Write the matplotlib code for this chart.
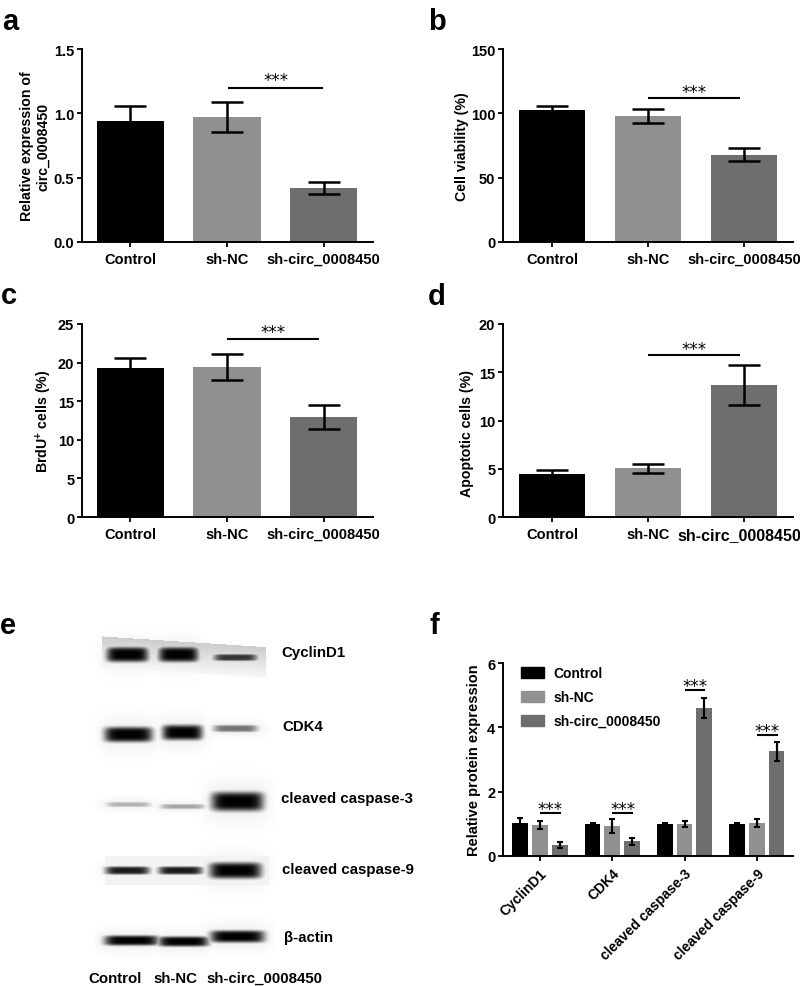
import numpy as np
import matplotlib
matplotlib.use('Agg')
import matplotlib.pyplot as plt
from matplotlib.patches import Patch
from matplotlib.transforms import ScaledTranslation

plt.rcParams['font.family'] = ['Liberation Sans', 'DejaVu Sans']
plt.rcParams['font.weight'] = 'bold'
plt.rcParams['axes.labelweight'] = 'bold'
plt.rcParams['mathtext.default'] = 'regular'

W, H = 800, 987
BLACK, LIGHT, DARK = '#000000', '#909090', '#6e6e6e'
colors = [BLACK, LIGHT, DARK]

groups = ['Control', 'sh-NC', 'sh-circ_0008450']

a_vals = [0.94, 0.97, 0.42]
a_err = [0.115, 0.115, 0.047]
b_vals = [102.5, 98, 68]
b_err = [3.3, 5.5, 5.3]
c_vals = [19.3, 19.4, 12.9]
c_err = [1.35, 1.65, 1.55]
d_vals = [4.45, 5.05, 13.65]
d_err = [0.43, 0.44, 2.08]

proteins = ['CyclinD1', 'CDK4', 'cleaved caspase-3', 'cleaved caspase-9']
f_control = [1.03, 0.98, 0.98, 1.0]
f_nc = [0.97, 0.92, 1.0, 1.02]
f_kd = [0.35, 0.46, 4.6, 3.25]
f_control_err = [0.15, 0.05, 0.05, 0.03]
f_nc_err = [0.12, 0.22, 0.1, 0.12]
f_kd_err = [0.09, 0.11, 0.32, 0.29]

blot_rows = ['CyclinD1', 'CDK4', 'cleaved caspase-3', 'cleaved caspase-9', 'β-actin']
blot_levels = [[1.0, 1.0, 0.8],
               [1.0, 1.0, 0.55],
               [0.3, 0.35, 1.0],
               [0.9, 0.9, 1.0],
               [1.0, 1.0, 1.0]]

fig = plt.figure(figsize=(W / 100, H / 100), dpi=100, facecolor='white')


def px_axes(left, top, right, bottom):
    return fig.add_axes([left / W, 1 - bottom / H, (right - left) / W, (bottom - top) / H])


def style(ax, ymax, yticks, ylabels, ylabel, label_x, label_y=0.5, size=10.2):
    ax.set_ylim(0, ymax)
    ax.set_yticks(yticks, ylabels)
    ax.set_ylabel(ylabel, fontsize=size, linespacing=1.2)
    box = ax.get_position()
    ax.yaxis.set_label_coords((label_x / W - box.x0) / box.width, label_y)
    ax.spines[['top', 'right']].set_visible(False)
    ax.spines[['left', 'bottom']].set_linewidth(1.4)
    ax.tick_params(width=1.3, length=3.6)
    ax.tick_params(axis='y', labelsize=10.5, pad=2)
    ax.tick_params(axis='x', pad=3.5)
    ax.patch.set_alpha(0)


def bar_panel(box, vals, err, xlim, ymax, yticks, ylabels, ylabel, label_x, line_x, line_y,
              star_y, label_y=0.5):
    ax = px_axes(*box)
    x = np.arange(3)
    ax.bar(x, vals, width=0.695, color=colors)
    ax.errorbar(x, vals, yerr=err, fmt='none', ecolor='black', elinewidth=1.8,
                capsize=11.5, capthick=1.8, zorder=5)
    ax.set_xlim(*xlim)
    ax.set_xticks(x, groups, fontsize=10.5)
    style(ax, ymax, yticks, ylabels, ylabel, label_x, label_y)
    ax.plot(line_x, [line_y, line_y], color='black', lw=1.5, solid_capstyle='butt')
    ax.text(np.mean(line_x), star_y, '***', ha='center', va='center', fontsize=12,
            fontweight='normal', family='DejaVu Sans')
    return ax


bar_panel((82, 50, 373, 243), a_vals, a_err, (-0.5, 2.51), 1.5, [0, 0.5, 1, 1.5],
          ['0.0', '0.5', '1.0', '1.5'], 'Relative expression of\ncirc_0008450', 50,
          [1.01, 1.995], 1.197, 1.26)
bar_panel((503, 50, 793, 243), b_vals, b_err, (-0.51, 2.51), 150, [0, 50, 100, 150],
          ['0', '50', '100', '150'], 'Cell viability (%)', 469,
          [1.0, 1.96], 112, 116.6)
bar_panel((82, 325, 373, 518), c_vals, c_err, (-0.5, 2.51), 25, [0, 5, 10, 15, 20, 25],
          ['0', '5', '10', '15', '20', '25'], 'BrdU$^{+}$ cells (%)', 54,
          [1.0, 1.95], 23.06, 23.96)
ax_d = bar_panel((503, 325, 793, 518), d_vals, d_err, (-0.51, 2.51), 20, [0, 5, 10, 15, 20],
                 ['0', '5', '10', '15', '20'], 'Apoptotic cells (%)', 474,
                 [1.0, 1.96], 16.8, 17.4, label_y=0.44)
# the last label of panel d is wider and sits further left
last = ax_d.get_xticklabels()[2]
last.set_fontsize(11.5)
last.set_transform(last.get_transform() + ScaledTranslation(-5 / 100, 0, fig.dpi_scale_trans))

# panel f
ax = px_axes(503, 664, 793, 857)
x = np.arange(4)
step = 0.272
for k, (vals, errs) in enumerate(zip([f_control, f_nc, f_kd],
                                     [f_control_err, f_nc_err, f_kd_err])):
    pos = x + (k - 1) * step
    ax.bar(pos, vals, width=0.22, color=colors[k])
    ax.errorbar(pos, vals, yerr=errs, fmt='none', ecolor='black', elinewidth=1.6, capsize=2.5,
                capthick=1.5, zorder=5)
ax.set_xlim(-0.51, 3.5)
ax.set_xticks(x, proteins, rotation=45, ha='right', rotation_mode='anchor', fontsize=10)
style(ax, 6, [0, 2, 4, 6], ['0', '2', '4', '6'], 'Relative protein expression', 481, size=10.5)
sig_y = [1.34, 1.34, 5.16, 3.76]
for i in x:
    ax.plot([i, i + 0.29], [sig_y[i], sig_y[i]], color='black', lw=1.5, solid_capstyle='butt')
    ax.text(i + 0.145, sig_y[i] + 0.13, '***', ha='center', va='center', fontsize=12,
            fontweight='normal', family='DejaVu Sans')
ax.legend(handles=[Patch(color=c, label=g) for c, g in zip(colors, groups)],
          loc='upper left', bbox_to_anchor=(0.062, 0.985), frameon=False, fontsize=10,
          handlelength=1.65, handleheight=0.85, labelspacing=0.72, handletextpad=0.7,
          borderpad=0, borderaxespad=0)

# panel e, blot bands rendered from the relative levels
ax = px_axes(95, 630, 275, 960)
yy, xx = np.mgrid[630:960, 95:275]
img = np.ones(yy.shape)
lane_x = [[127, 178, 235], [128, 182, 235], [128, 182, 237], [127, 180, 235], [131, 183, 237]]
lane_y = [[655, 655, 658], [735, 733, 729], [805, 807, 802], [871, 871, 871], [941, 942, 937]]
half_w = [[21, 20, 22], [24, 20, 22], [22, 22, 26], [22, 22, 26], [27, 25, 27]]
half_h = [[7.5, 7.5, 3.5], [7.5, 7.5, 3.5], [2.5, 2.5, 9.5], [4, 4, 8], [5, 5, 6]]

# smeared strip behind the CyclinD1 row
top = 637 + (xx - 102) * 0.065
strip = (xx >= 102) & (xx <= 265) & (yy >= top) & (yy <= top + 31)
img[strip] = 0.8 + 0.17 * np.clip((yy - top)[strip] / 31, 0, 1)
# faint strip behind cleaved caspase-9
strip = (xx >= 105) & (xx <= 268) & (yy >= 857) & (yy <= 885)
img[strip] = 0.95

for r, levels in enumerate(blot_levels):
    for l, level in enumerate(levels):
        dx = (xx - lane_x[r][l]) / half_w[r][l]
        dy = (yy - lane_y[r][l]) / half_h[r][l]
        img = np.minimum(img, 1 - 0.07 * np.exp(-(np.abs(dx / 1.3) ** 4 + (dy / 2.2) ** 2)))
        img = np.minimum(img, 1 - level * np.exp(-(dx ** 6 + dy ** 4)))
ax.imshow(img, cmap='gray', vmin=0, vmax=1, aspect='auto', interpolation='bilinear')
ax.axis('off')

blot_label_x = [281, 282, 281, 282, 284]
blot_label_y = [653, 727, 799, 870, 938]
for name, lx, ly in zip(blot_rows, blot_label_x, blot_label_y):
    fig.text(lx / W, 1 - ly / H, name, fontsize=10.8, va='center', ha='left')
for name, lx in zip(groups, [88, 153, 206]):
    fig.text(lx / W, 1 - 979 / H, name, fontsize=10.8, va='center', ha='left')

# panel letters
for letter, lx, ly in [('a', 2, 30), ('b', 428, 30), ('c', 1, 304), ('d', 428, 305),
                       ('e', 0, 634), ('f', 430, 634)]:
    fig.text(lx / W, 1 - ly / H, letter, fontsize=21, va='baseline', ha='left')

fig.savefig('out.png', dpi=100)
